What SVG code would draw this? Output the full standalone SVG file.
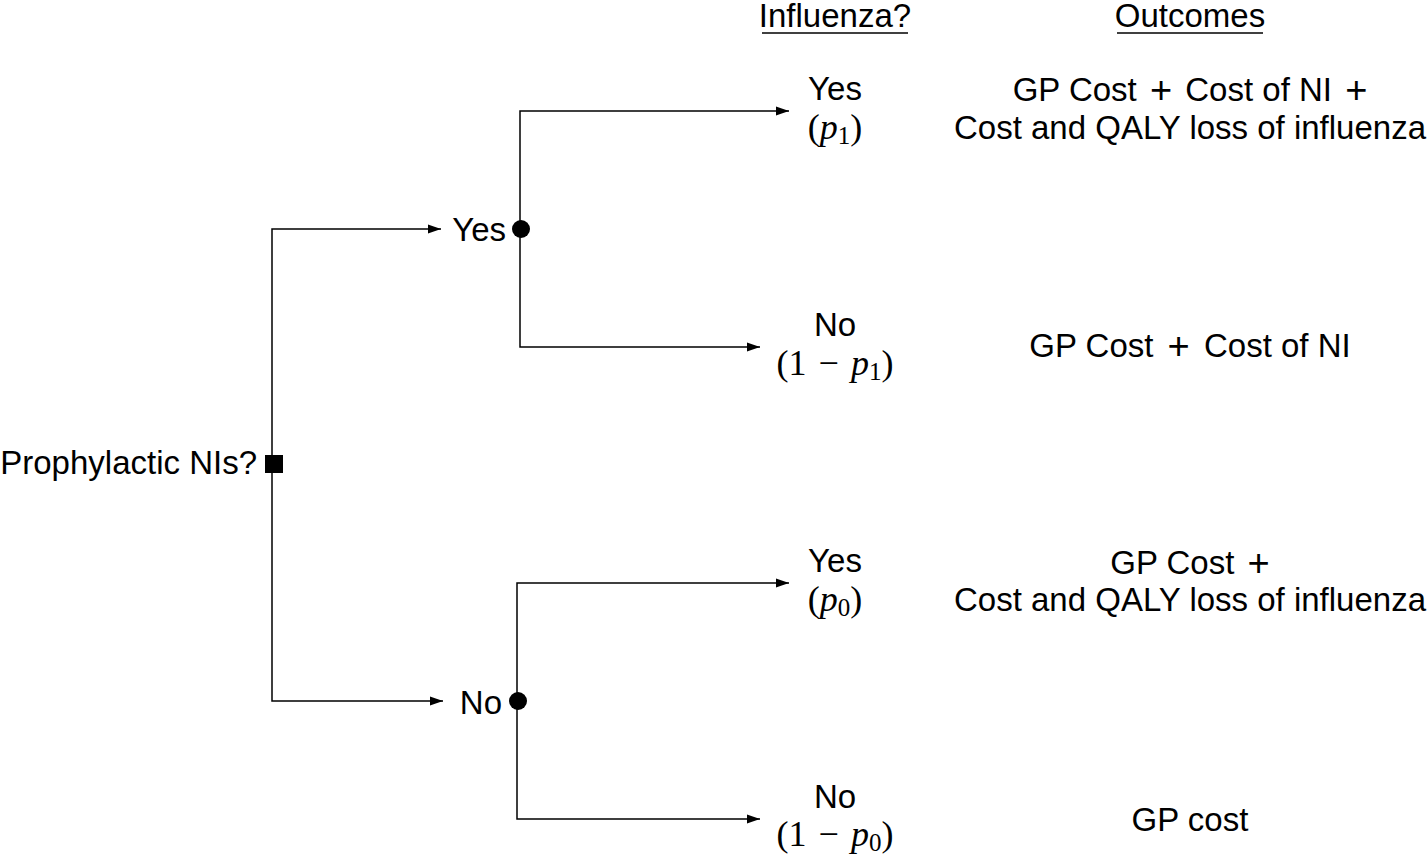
<svg xmlns="http://www.w3.org/2000/svg" width="1427" height="854" viewBox="0 0 1427 854">
  <style>
    .t { font-family: "Liberation Sans", Arial, sans-serif; font-size: 33px; fill: #000; }
    .m { font-family: "Liberation Serif", "Times New Roman", serif; font-size: 36px; fill: #000; }
    .s { font-size: 25px; }
    .p { font-size: 38px; }
    .c { text-anchor: middle; }
    .e { text-anchor: end; }
    .edge { fill: none; stroke: #000; stroke-width: 1.5; }
    .ul { stroke: #000; stroke-width: 1.5; }
  </style>
  <defs>
    <marker id="arr" markerUnits="userSpaceOnUse" markerWidth="14" markerHeight="10" refX="13" refY="5" orient="auto">
      <path d="M0,0.5 L13,5 L0,9.5 z" fill="#000"/>
    </marker>
  </defs>
  <rect width="1427" height="854" fill="#fff"/>

  <g id="headers">
    <text class="t c" x="835" y="27">Influenza?</text>
    <line class="ul" x1="762" y1="33" x2="908" y2="33"/>
    <text class="t c" x="1190" y="27">Outcomes</text>
    <line class="ul" x1="1117" y1="33" x2="1263" y2="33"/>
  </g>

  <g id="connectors">
    <path class="edge" d="M272,463 V229 H441" marker-end="url(#arr)"/>
    <path class="edge" d="M272,463 V701 H443" marker-end="url(#arr)"/>
    <path class="edge" d="M520,229 V111 H789" marker-end="url(#arr)"/>
    <path class="edge" d="M520,229 V347 H760" marker-end="url(#arr)"/>
    <path class="edge" d="M517,701 V583 H789" marker-end="url(#arr)"/>
    <path class="edge" d="M517,701 V819 H760" marker-end="url(#arr)"/>
  </g>

  <g id="root">
    <rect x="265" y="455" width="18" height="18" fill="#000"/>
    <text class="t e" x="257" y="474">Prophylactic NIs?</text>
  </g>

  <g id="chance-yes">
    <circle cx="521" cy="229" r="9" fill="#000"/>
    <text class="t e" x="506" y="241">Yes</text>
  </g>

  <g id="chance-no">
    <circle cx="518" cy="701" r="9" fill="#000"/>
    <text class="t e" x="502" y="714">No</text>
  </g>

  <g id="leaf-yes-yes">
    <text class="t c" x="835" y="100">Yes</text>
    <text class="m c" x="835" y="139">(<tspan font-style="italic">p</tspan><tspan class="s" dy="5">1</tspan><tspan dy="-5">)</tspan></text>
  </g>

  <g id="leaf-yes-no">
    <text class="t c" x="835" y="336">No</text>
    <text class="m c" x="835" y="375">(1 <tspan dx="3">−</tspan> <tspan dx="3" font-style="italic">p</tspan><tspan class="s" dy="5">1</tspan><tspan dy="-5">)</tspan></text>
  </g>

  <g id="leaf-no-yes">
    <text class="t c" x="835" y="572">Yes</text>
    <text class="m c" x="835" y="611">(<tspan font-style="italic">p</tspan><tspan class="s" dy="5">0</tspan><tspan dy="-5">)</tspan></text>
  </g>

  <g id="leaf-no-no">
    <text class="t c" x="835" y="808">No</text>
    <text class="m c" x="835" y="846">(1 <tspan dx="3">−</tspan> <tspan dx="3" font-style="italic">p</tspan><tspan class="s" dy="5">0</tspan><tspan dy="-5">)</tspan></text>
  </g>

  <g id="outcome-1">
    <text class="t c" x="1190" y="101">GP Cost <tspan class="p" dx="4" dy="2">+</tspan><tspan dx="4" dy="-2"> Cost of NI </tspan><tspan class="p" dx="4" dy="2">+</tspan></text>
    <text class="t c" x="1190" y="139">Cost and QALY loss of influenza</text>
  </g>

  <g id="outcome-2">
    <text class="t c" x="1190" y="357">GP Cost <tspan class="p" dx="5" dy="2">+</tspan><tspan dx="5" dy="-2"> Cost of NI</tspan></text>
  </g>

  <g id="outcome-3">
    <text class="t c" x="1190" y="574">GP Cost <tspan class="p" dx="4" dy="2">+</tspan></text>
    <text class="t c" x="1190" y="611">Cost and QALY loss of influenza</text>
  </g>

  <g id="outcome-4">
    <text class="t c" x="1190" y="831">GP cost</text>
  </g>
</svg>
